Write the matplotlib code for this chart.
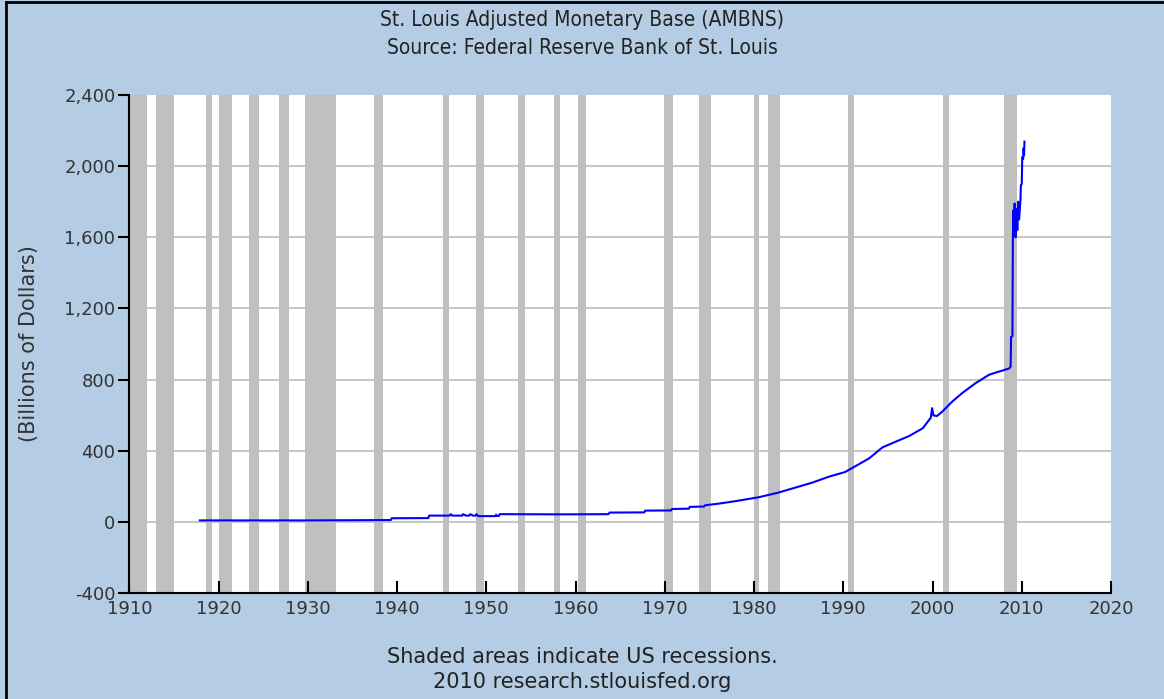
import matplotlib.pyplot as plt
from matplotlib.lines import Line2D

# Datos (AMBNS, miles de millones de dolares)
anios = [1917.9, 1925.0, 1930.0, 1935.0, 1939.3, 1939.4, 1943.5, 1943.6,
         1945.9, 1946.0, 1946.2, 1947.3, 1947.4, 1947.7, 1948.1, 1948.2,
         1948.5, 1948.8, 1948.9, 1949.1, 1951.0, 1951.1, 1951.2, 1951.4,
         1951.5, 1958.4, 1963.7, 1963.8, 1967.7, 1967.8, 1970.7, 1970.8,
         1972.7, 1972.8, 1974.4, 1974.5, 1976.0, 1977.9, 1980.5, 1982.7,
         1984.6, 1986.5, 1988.4, 1990.2, 1991.4, 1992.9, 1994.4, 1995.9,
         1997.4, 1998.9, 1999.8, 1999.95, 2000.1, 2000.5, 2001.1, 2002.2,
         2003.3, 2004.8, 2006.3, 2007.0, 2007.8, 2008.6, 2008.75, 2008.8,
         2008.95, 2009.0, 2009.05, 2009.1, 2009.2, 2009.3, 2009.4, 2009.5,
         2009.6, 2009.7, 2009.85, 2009.9, 2010.0, 2010.05, 2010.15, 2010.2,
         2010.25, 2010.3]
base = [8, 8, 8, 9, 10, 20, 21, 35,
        35, 43, 35, 35, 43, 35, 35, 43,
        35, 35, 43, 32, 32, 40, 33, 33,
        43, 42, 43, 52, 53, 63, 64, 72,
        74, 84, 86, 93, 102, 116, 138, 164,
        192, 220, 254, 280, 314, 357, 419, 451,
        483, 526, 585, 639, 598, 595, 620, 676,
        723, 779, 826, 838, 850, 863, 873, 1040,
        1045, 1585, 1750, 1620, 1790, 1600, 1760, 1640,
        1800, 1700, 1810, 1894, 1900, 2050, 2040, 2100,
        2060, 2138]

# Recesiones (NBER), inicio y fin
rec_ini = [1910.0, 1913.0, 1918.63, 1920.0, 1923.38, 1926.79, 1929.63, 1937.38,
           1945.13, 1948.88, 1953.54, 1957.63, 1960.29, 1969.96, 1973.88,
           1980.04, 1981.54, 1990.54, 2001.21, 2007.96]
rec_fin = [1912.0, 1914.96, 1919.21, 1921.54, 1924.54, 1927.88, 1933.21, 1938.46,
           1945.79, 1949.79, 1954.38, 1958.29, 1961.13, 1970.88, 1975.21,
           1980.54, 1982.88, 1991.21, 2001.88, 2009.46]

y_ticks = [-400, 0, 400, 800, 1200, 1600, 2000, 2400]
x_ticks = list(range(1910, 2021, 10))

fondo = '#B4CDE4'
fig = plt.figure(figsize=(11.64, 6.99), dpi=100, facecolor=fondo)
ax = fig.add_axes([0.1111, 0.1517, 0.8434, 0.7124])
ax.set_facecolor('white')

for a, b in zip(rec_ini, rec_fin):
    ax.axvspan(a, b, color='#C0C0C0', lw=0, zorder=1)

for v in y_ticks[1:-1]:
    ax.axhline(v, color='#C8C8C8', lw=1.5, zorder=0.5)

ax.plot(anios, base, color='#0000FF', lw=1.5, zorder=3)

ax.set_xlim(1910, 2020)
ax.set_ylim(-400, 2400)
ax.set_xticks(x_ticks)
ax.set_yticks(y_ticks)
ax.set_yticklabels(['{:,}'.format(v) for v in y_ticks])
ax.tick_params(axis='y', direction='out', length=8, width=1.5, labelsize=13,
               labelcolor='#333333', pad=2)
ax.tick_params(axis='x', direction='in', length=9, width=1.5, labelsize=13,
               labelcolor='#333333', pad=5)
for s in ['top', 'right']:
    ax.spines[s].set_visible(False)
for s in ['left', 'bottom']:
    ax.spines[s].set_linewidth(1.5)

ax.set_ylabel('(Billions of Dollars)', fontsize=15, color='#333333', labelpad=18)

fig.text(0.5, 0.971, 'St. Louis Adjusted Monetary Base (AMBNS)', ha='center', va='center',
         fontsize=15, color='#222222', fontstretch='condensed')
fig.text(0.5, 0.932, 'Source: Federal Reserve Bank of St. Louis', ha='center', va='center',
         fontsize=15, color='#222222', fontstretch='condensed')
fig.text(0.5, 0.060, 'Shaded areas indicate US recessions.', ha='center', va='center',
         fontsize=15, color='#222222')
fig.text(0.5, 0.024, '2010 research.stlouisfed.org', ha='center', va='center',
         fontsize=15, color='#222222')

# marco negro arriba e izquierda
fig.add_artist(Line2D([0.0055, 0.0055], [0, 0.997], color='black', lw=2,
                      transform=fig.transFigure))
fig.add_artist(Line2D([0.0055, 1], [0.997, 0.997], color='black', lw=2,
                      transform=fig.transFigure))

fig.savefig('out.png', dpi=100, facecolor=fondo)
